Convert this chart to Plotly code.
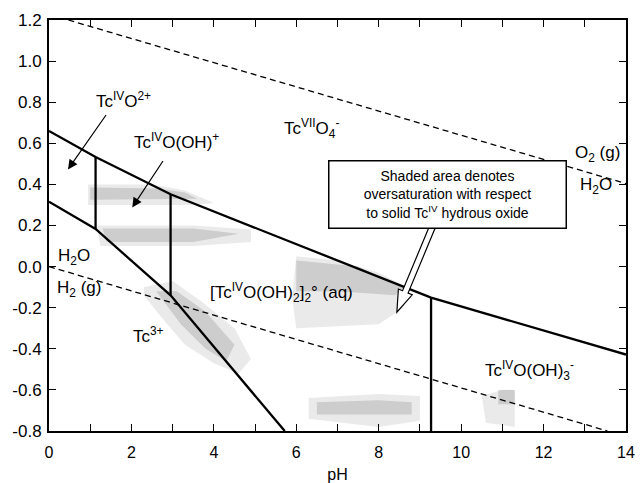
import numpy as np
import plotly.graph_objects as go

# ---------------- data ----------------
# Tc(VII)/Tc(IV) boundary
ph_upper = [0.0, 1.13, 2.95, 9.27, 14.0]
e_upper = [0.660, 0.533, 0.352, -0.151, -0.428]
# Tc(IV)/Tc(III) boundary
ph_lower = [0.0, 1.13, 2.95, 5.72]
e_lower = [0.316, 0.183, -0.140, -0.800]
# vertical Tc(IV) speciation boundaries (pH, E bottom, E top)
ph_vert = [1.13, 2.95, 9.27]
e_vert_bottom = [0.183, -0.140, -0.800]
e_vert_top = [0.533, 0.352, -0.151]
# water stability lines
ph_o2 = [0.47, 14.0]
e_o2 = [1.20, 0.404]
ph_h2 = [0.0, 13.55]
e_h2 = [0.0, -0.80]

# shaded (oversaturated) regions: vertices (pH, E)
shade_regions = {
    "A": ([0.95, 2.5, 3.3, 4.0, 3.5, 0.95], [0.40, 0.40, 0.37, 0.31, 0.30, 0.30]),
    "B": ([1.15, 3.5, 4.9, 4.9, 3.5, 1.25], [0.20, 0.20, 0.18, 0.12, 0.10, 0.10]),
    "C": ([2.3, 3.0, 3.7, 4.5, 4.9, 4.6, 4.0, 3.3, 2.7, 2.3],
          [-0.10, -0.07, -0.17, -0.30, -0.45, -0.52, -0.47, -0.38, -0.24, -0.14]),
    "D": ([6.0, 7.0, 8.0, 8.7, 8.6, 8.0, 6.0, 5.9],
          [0.05, 0.03, -0.03, -0.10, -0.20, -0.28, -0.30, -0.15]),
    "E": ([6.3, 8.0, 9.0, 9.0, 8.0, 6.3], [-0.64, -0.62, -0.63, -0.75, -0.78, -0.74]),
    "F": ([10.5, 11.0, 11.3, 11.3, 10.6], [-0.63, -0.60, -0.60, -0.78, -0.76]),
}
dense_regions = {
    "A": ([1.0, 2.6, 3.3, 3.6, 1.0], [0.385, 0.38, 0.36, 0.33, 0.325]),
    "B": ([1.3, 3.5, 4.6, 3.5, 1.4], [0.185, 0.185, 0.16, 0.12, 0.12]),
    "C": ([2.6, 3.1, 3.8, 4.5, 4.3, 3.8, 3.2], [-0.12, -0.12, -0.22, -0.38, -0.46, -0.40, -0.28]),
    "D": ([6.0, 7.5, 8.6, 8.4, 7.0, 6.0], [0.03, 0.0, -0.10, -0.14, -0.12, -0.12]),
    "E": ([6.5, 8.0, 8.8, 8.8, 6.5], [-0.66, -0.65, -0.66, -0.72, -0.72]),
    "F": ([10.9, 11.3, 11.3, 10.9], [-0.60, -0.60, -0.67, -0.67]),
}

x_tickvals = list(range(0, 15))
x_ticktext = [str(v) if v % 2 == 0 else "" for v in x_tickvals]
y_tickvals = [-0.8, -0.6, -0.4, -0.2, 0.0, 0.2, 0.4, 0.6, 0.8, 1.0, 1.2]
y_ticktext = ["-0.8", "-0.6", "-0.4", "-0.2", "0.0", "0.2", "0.4", "0.6", "0.8", "1.0", "1.2"]

# labels: (text, pH, E)
labels = [
    ("Tc<sup>IV</sup>O<sup>2+</sup>", 1.81, 0.81),
    ("Tc<sup>IV</sup>O(OH)<sup>+</sup>", 3.09, 0.61),
    ("Tc<sup>VII</sup>O<sub>4</sub><sup>-</sup>", 6.36, 0.674),
    ("O<sub>2</sub> (g)", 13.3, 0.547),
    ("H<sub>2</sub>O", 13.27, 0.391),
    ("H<sub>2</sub>O", 0.6, 0.045),
    ("H<sub>2</sub> (g)", 0.72, -0.11),
    ("Tc<sup>3+</sup>", 2.42, -0.334),
    ("[Tc<sup>IV</sup>O(OH)<sub>2</sub>]<sub>2</sub>° (aq)", 5.64, -0.127),
    ("Tc<sup>IV</sup>O(OH)<sub>3</sub><sup>-</sup>", 11.67, -0.505),
]
# pointer arrows: (tail pH, tail E, head pH, head E)
arrows = [(1.41, 0.745, 0.46, 0.473), (2.79, 0.521, 2.02, 0.288)]
note_text = "Shaded area denotes<br>oversaturation with respect<br>to solid Tc<sup>IV</sup> hydrous oxide"
note_pos = (9.67, 0.353)
hollow_tail = (9.31, 0.197)
hollow_tip = (8.44, -0.222)

# ---------------- figure ----------------
W_FIG, H_FIG = 641, 483
ML, MR, MT, MB = 49, 15, 20, 52
XR = [0, 14]
YR = [-0.8, 1.2]
PW = W_FIG - ML - MR
PH = H_FIG - MT - MB
FONT = "Liberation Sans, Arial, Helvetica, sans-serif"

fig = go.Figure()

for key, (xs, ys) in shade_regions.items():
    fig.add_trace(go.Scatter(x=xs + [xs[0]], y=ys + [ys[0]], fill="toself", mode="none",
                             fillcolor="rgba(140,140,140,0.18)",
                             hoverinfo="skip", showlegend=False))
for key, (xs, ys) in dense_regions.items():
    fig.add_trace(go.Scatter(x=xs + [xs[0]], y=ys + [ys[0]], fill="toself", mode="none",
                             fillcolor="rgba(130,130,130,0.28)",
                             hoverinfo="skip", showlegend=False))

dash_style = dict(color="black", width=1.3, dash="6px,4px")
fig.add_trace(go.Scatter(x=ph_o2, y=e_o2, mode="lines", line=dash_style, showlegend=False))
fig.add_trace(go.Scatter(x=ph_h2, y=e_h2, mode="lines", line=dash_style, showlegend=False))

solid = dict(color="black", width=2.3)
fig.add_trace(go.Scatter(x=ph_upper, y=e_upper, mode="lines", line=solid, showlegend=False))
fig.add_trace(go.Scatter(x=ph_lower, y=e_lower, mode="lines", line=solid, showlegend=False))
for p, eb, et in zip(ph_vert, e_vert_bottom, e_vert_top):
    fig.add_trace(go.Scatter(x=[p, p], y=[eb, et], mode="lines", line=solid, showlegend=False))

for txt, x, y in labels:
    fig.add_annotation(x=x, y=y, text=txt, showarrow=False, xanchor="center", yanchor="middle",
                       font=dict(family=FONT, size=17, color="black"))

for tx, ty, hx, hy in arrows:
    fig.add_annotation(x=hx, y=hy, ax=tx, ay=ty, axref="x", ayref="y", xref="x", yref="y",
                       text="", showarrow=True, arrowhead=2, arrowsize=1.6, arrowwidth=1.2,
                       arrowcolor="black")


# hollow arrow, computed in pixel space then mapped back to data
def to_px(x, y):
    return (ML + (x - XR[0]) / (XR[1] - XR[0]) * PW,
            MT + (YR[1] - y) / (YR[1] - YR[0]) * PH)


def to_data(px, py):
    return (XR[0] + (px - ML) / PW * (XR[1] - XR[0]),
            YR[1] - (py - MT) / PH * (YR[1] - YR[0]))


t = np.array(to_px(*hollow_tail))
h = np.array(to_px(*hollow_tip))
u = (h - t) / np.linalg.norm(h - t)
n = np.array([-u[1], u[0]])
sw, hw, hl = 3.0, 7.5, 22.0
neck = h - u * hl
pts_px = [t + n * sw, neck + n * sw, neck + n * hw, h, neck - n * hw, neck - n * sw, t - n * sw]
pts = [to_data(*p) for p in pts_px]
path = "M " + " L ".join(f"{x:.4f},{y:.4f}" for x, y in pts) + " Z"
fig.add_shape(type="path", path=path, xref="x", yref="y", fillcolor="white",
              line=dict(color="black", width=1.2))

fig.add_annotation(x=note_pos[0], y=note_pos[1], text=note_text, showarrow=False,
                   xanchor="center", yanchor="middle", align="center",
                   font=dict(family=FONT, size=14, color="black"),
                   bgcolor="white", bordercolor="black", borderwidth=1.5, borderpad=2,
                   width=232, height=62)

axis_common = dict(showline=True, linecolor="black", linewidth=2, mirror="ticks",
                   ticks="inside", ticklen=7, tickwidth=1, tickcolor="black",
                   showgrid=False, zeroline=False)
fig.update_xaxes(range=XR, tickvals=x_tickvals, ticktext=x_ticktext, ticklabelstandoff=6,
                 tickfont=dict(family=FONT, size=16, color="black"),
                 title=dict(text="pH", font=dict(family=FONT, size=16, color="black"), standoff=12),
                 **axis_common)
fig.update_yaxes(range=YR, tickvals=y_tickvals, ticktext=y_ticktext, ticklabelstandoff=2,
                 tickfont=dict(family=FONT, size=17, color="black"), **axis_common)

fig.update_layout(width=W_FIG, height=H_FIG, margin=dict(l=ML, r=MR, t=MT, b=MB, autoexpand=False),
                  plot_bgcolor="white", paper_bgcolor="white", showlegend=False)

fig.write_html("out.html", config={"displayModeBar": False},
               post_script="document.body.style.margin='0';")
